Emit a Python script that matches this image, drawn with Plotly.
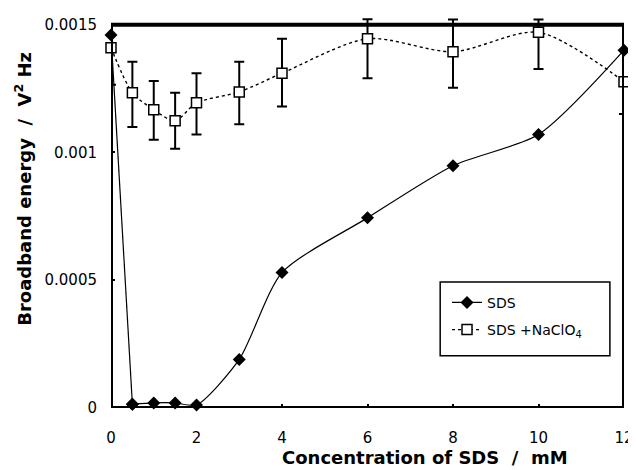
import plotly.graph_objects as go

conc = [0, 0.5, 1, 1.5, 2, 3, 4, 6, 8, 10, 12]
sds = [0.00146, 0.000015, 0.00002, 0.00002, 0.000012, 0.00019, 0.00053, 0.000744, 0.000948, 0.00107, 0.0014]
sds_naclo4 = [0.00141, 0.001234, 0.001167, 0.001124, 0.001194, 0.001237, 0.00131, 0.001445, 0.001394, 0.00147, 0.001277]
err_plus = [0.00009, 0.000121, 0.000113, 0.00011, 0.000116, 0.000118, 0.000135, 0.000076, 0.000126, 0.00005, 0.00012]
err_minus = [0.000145, 0.000134, 0.000117, 0.00011, 0.000124, 0.000127, 0.00013, 0.000155, 0.000141, 0.000143, 0.000127]

x_ticks = [0, 2, 4, 6, 8, 10, 12]
y_ticks = [0, 0.0005, 0.001, 0.0015]
y_tick_labels = ["0", "0.0005", "0.001", "0.0015"]

x_title = "<b>Concentration of SDS  /  mM</b>"
y_title = "<b>Broadband energy  /  V<sup>2</sup> Hz</b>"

fig = go.Figure()
fig.add_trace(go.Scatter(
    x=conc, y=sds_naclo4, name="SDS +NaClO<sub>4</sub>", legendgroup="b", legendrank=2,
    mode="lines+markers",
    line=dict(color="black", width=1.4, dash="dot", shape="spline", smoothing=0.8),
    marker=dict(symbol="square", size=10, color="white", line=dict(color="black", width=1.5)),
    error_y=dict(type="data", symmetric=False, array=err_plus, arrayminus=err_minus,
                 color="black", thickness=2, width=5),
    cliponaxis=False,
))
# steep first segment drawn straight
fig.add_trace(go.Scatter(
    x=conc[:2], y=sds[:2], showlegend=False, legendgroup="a",
    mode="lines+markers",
    line=dict(color="black", width=1.2),
    marker=dict(symbol="diamond", size=10, color="black"),
    cliponaxis=False,
))
fig.add_trace(go.Scatter(
    x=conc[1:], y=sds[1:], name="SDS", legendgroup="a", legendrank=1,
    mode="lines+markers",
    line=dict(color="black", width=1.2, shape="spline", smoothing=0.7),
    marker=dict(symbol="diamond", size=10, color="black"),
    cliponaxis=False,
))

tick_font = dict(family="DejaVu Sans", size=15, color="black")
title_font = dict(family="DejaVu Sans", size=18, color="black")
fig.update_layout(
    width=628, height=462,
    margin=dict(l=103, r=12, t=9.3, b=62),
    paper_bgcolor="white", plot_bgcolor="white",
    showlegend=True,
    legend=dict(x=0.655, y=0.31, xanchor="left", yanchor="top",
                borderwidth=0, bgcolor="rgba(0,0,0,0)",
                font=dict(family="DejaVu Sans", size=14, color="black"),
                traceorder="grouped", tracegroupgap=6),
    shapes=[
        # plot frame
        dict(type="rect", xref="x", yref="y", x0=0, x1=12, y0=0, y1=0.0015,
             line=dict(color="black", width=4), fillcolor="rgba(0,0,0,0)", layer="above"),
        # legend box
        dict(type="rect", xref="x", yref="y", x0=7.70, x1=11.67, y0=0.000204, y1=0.000493,
             line=dict(color="black", width=1.5), fillcolor="rgba(0,0,0,0)", layer="above"),
    ],
    annotations=[
        dict(text=x_title, xref="paper", yref="paper", x=0.612, y=-0.1254,
             xanchor="center", yanchor="middle", showarrow=False, font=title_font),
        dict(text=y_title, xref="paper", yref="paper", x=-0.1715, y=0.5606, textangle=-90,
             xanchor="center", yanchor="middle", showarrow=False, font=title_font),
    ],
    xaxis=dict(range=[0, 12], tickvals=x_ticks, ticks="inside", ticklen=4, tickwidth=2,
               tickcolor="black", showline=False, showgrid=False, zeroline=False,
               tickfont=tick_font, automargin=False, ticklabelstandoff=19,
               ticklabeloverflow="allow"),
    yaxis=dict(range=[0, 0.00153], tickvals=y_ticks, ticktext=y_tick_labels, ticks="inside",
               ticklen=4, tickwidth=2, tickcolor="black", showline=False, showgrid=False,
               zeroline=False, tickfont=tick_font, automargin=False, ticklabelstandoff=13,
               ticklabeloverflow="allow"),
)
fig.write_html(
    "out.html",
    post_script="document.documentElement.style.overflow='hidden';document.body.style.overflow='hidden';",
)
